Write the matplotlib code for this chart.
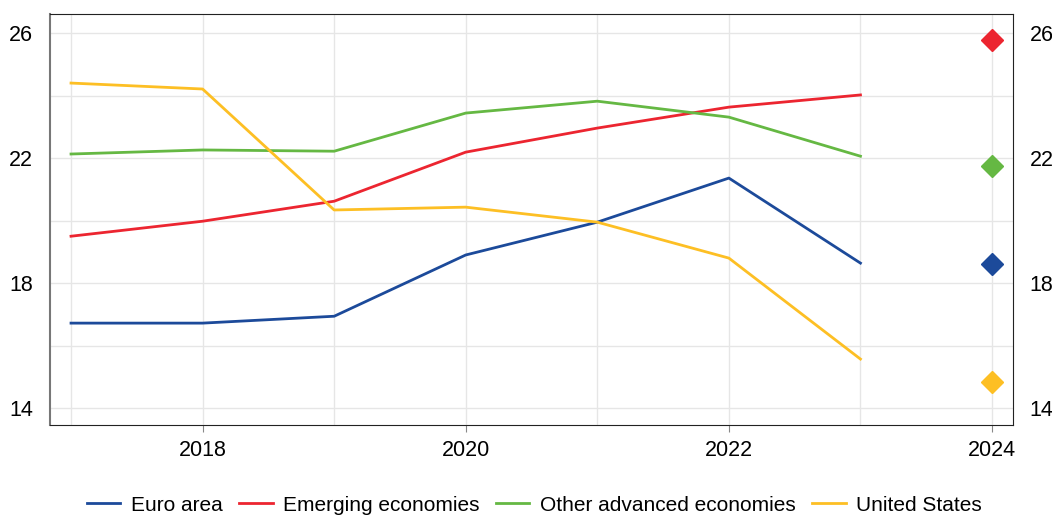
import numpy as np
import matplotlib
matplotlib.use('Agg')
import matplotlib.pyplot as plt

plt.rcParams['font.family'] = ['Liberation Sans', 'DejaVu Sans']

years = [2017, 2018, 2019, 2020, 2021, 2022, 2023]
forecast_year = 2024

euro_area = [16.72, 16.72, 16.94, 18.90, 19.95, 21.36, 18.64]
emerging = [19.50, 19.98, 20.62, 22.19, 22.96, 23.63, 24.02]
other_adv = [22.13, 22.26, 22.22, 23.44, 23.82, 23.31, 22.06]
united_states = [24.40, 24.21, 20.34, 20.43, 19.95, 18.80, 15.57]

forecast = {
    'Euro area': 18.61,
    'Emerging economies': 25.78,
    'Other advanced economies': 21.74,
    'United States': 14.83,
}

series = [
    ('Euro area', euro_area, '#1c4a9a'),
    ('Emerging economies', emerging, '#ec2530'),
    ('Other advanced economies', other_adv, '#65b843'),
    ('United States', united_states, '#fdbf24'),
]

fig = plt.figure(figsize=(10.52, 5.18), dpi=100)
ax = fig.add_axes([0.0475, 0.1795, 0.9155, 0.7935])

for name, vals, col in series:
    ax.plot(years, vals, color=col, lw=2.0, label=name, zorder=3)
    ax.plot([forecast_year], [forecast[name]], marker='D', ms=11, color=col,
            ls='none', zorder=4)

ax.set_xlim(2016.84, 2024.16)
ax.set_ylim(13.46, 26.61)

ax.set_xticks([2018, 2020, 2022, 2024])
ax.set_xticks(range(2017, 2025), minor=True)
ax.set_yticks([14, 18, 22, 26])
ax.set_yticks(range(14, 27, 2), minor=True)
ax.grid(True, which='both', color='#e6e6e6', lw=1, zorder=0)

ax.tick_params(axis='x', which='major', length=5, color='#888888', labelsize=15.5, pad=6)
ax.tick_params(axis='x', which='minor', length=0)
ax.tick_params(axis='y', which='both', length=0, labelsize=15.5, pad=12,
               labelright=True, right=False)

for s in ['top', 'bottom', 'right']:
    ax.spines[s].set_color('#222222')
ax.spines['left'].set_color('#777777')
ax.spines['left'].set_linewidth(1.5)

fig.legend(loc='center', bbox_to_anchor=(0.508, 0.025), ncol=4, frameon=False,
           fontsize=15, handlelength=1.6, columnspacing=0.8, handletextpad=0.5,
           borderpad=0.2)

fig.savefig('out.png', dpi=100)
